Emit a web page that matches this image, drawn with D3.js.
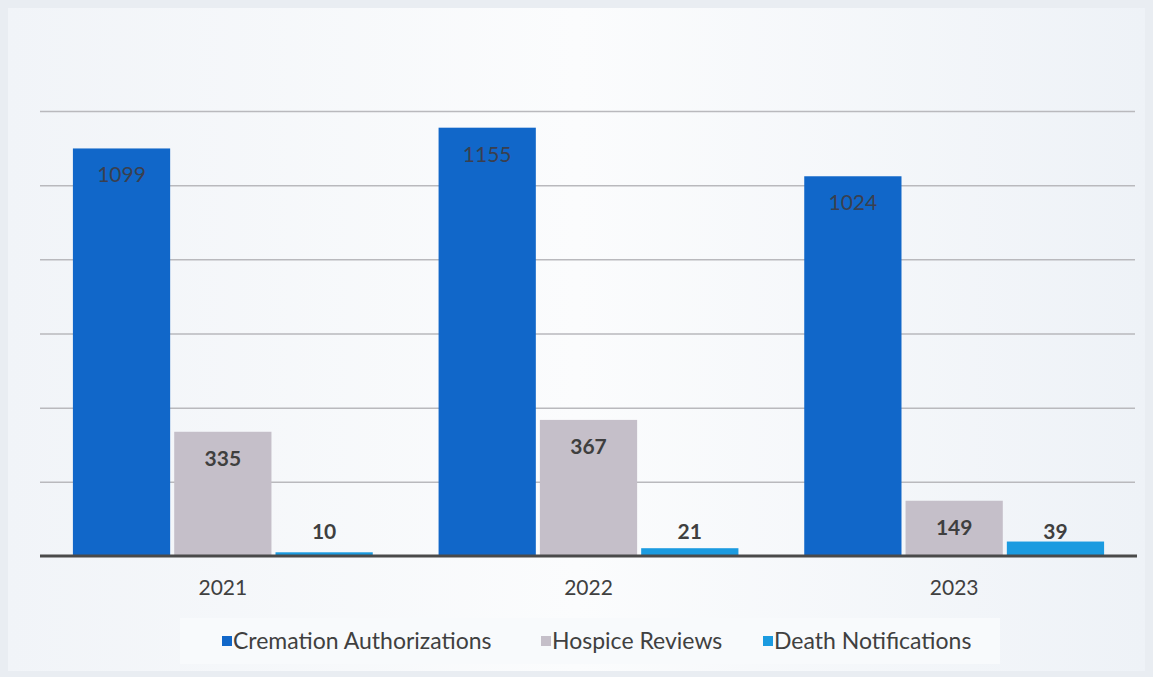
<!DOCTYPE html>
<html>
<head>
<meta charset="utf-8">
<script src="https://cdnjs.cloudflare.com/ajax/libs/d3/7.8.5/d3.min.js"></script>
<style>
  body { margin: 0; background: #eef2f6; }
  svg { display: block; }
</style>
</head>
<body>
<div id="chart"></div>
<script>
// data
const years = ["2021", "2022", "2023"];
const seriesNames = ["Cremation Authorizations", "Hospice Reviews", "Death Notifications"];
const cremation = [1099, 1155, 1024];
const hospice = [335, 367, 149];
const deaths = [10, 21, 39];
const yTicks = [0, 200, 400, 600, 800, 1000, 1200];

const colors = ["#1167c9", "#c5bfc9", "#1b9be0"];
const font = "Lato, 'Open Sans', sans-serif";

const W = 1153, H = 677;
const svg = d3.select("#chart").append("svg")
    .attr("width", W)
    .attr("height", H);

// background panel
const grad = svg.append("defs").append("linearGradient")
    .attr("id", "bg").attr("x1", 0).attr("y1", 0).attr("x2", 1).attr("y2", 0);
grad.append("stop").attr("offset", "0%").attr("stop-color", "#f1f4f8");
grad.append("stop").attr("offset", "50%").attr("stop-color", "#fbfcfd");
grad.append("stop").attr("offset", "100%").attr("stop-color", "#eef2f7");

svg.append("rect").attr("width", W).attr("height", H).attr("fill", "#e9edf2");
svg.append("rect")
    .attr("x", 8).attr("y", 8)
    .attr("width", W - 16).attr("height", H - 14)
    .attr("fill", "url(#bg)");

//比例尺
const x0 = d3.scaleBand()
    .domain(years)
    .range([40, 1137])
    .paddingInner(0.18)
    .paddingOuter(0.09);

const x1 = d3.scaleBand()
    .domain(seriesNames)
    .range([0, x0.bandwidth()])
    .paddingInner(0.04);

const y = d3.scaleLinear()
    .domain([0, 1200])
    .range([556, 111]);

// grid
const grid = svg.append("g")
    .attr("transform", "translate(40,0)")
    .call(d3.axisLeft(y).tickValues(yTicks).tickSize(-1095).tickFormat(""));
grid.select(".domain").remove();
grid.selectAll(".tick line")
    .attr("stroke", "#b9b9bd")
    .attr("stroke-width", 1.5)
    .filter(d => d === 0).remove();

// bars
const allSeries = [cremation, hospice, deaths];
const groups = svg.append("g").selectAll("g")
    .data(years)
    .join("g")
    .attr("transform", d => "translate(" + x0(d) + ",0)");

groups.selectAll("rect")
    .data((d, i) => seriesNames.map((s, k) => ({series: s, k: k, value: allSeries[k][i]})))
    .join("rect")
    .attr("x", d => x1(d.series))
    .attr("width", x1.bandwidth())
    .attr("y", d => y(d.value))
    .attr("height", d => y(0) - y(d.value))
    .attr("fill", d => colors[d.k]);

// value labels (inside end, pushed up for short bars)
groups.selectAll("text")
    .data((d, i) => seriesNames.map((s, k) => ({series: s, k: k, value: allSeries[k][i]})))
    .join("text")
    .attr("x", d => x1(d.series) + x1.bandwidth() / 2)
    .attr("y", d => Math.min(y(d.value) + 34, y(0) - 17))
    .attr("text-anchor", "middle")
    .attr("font-family", font)
    .attr("font-size", 21)
    .attr("font-weight", d => d.k === 0 ? "normal" : "bold")
    .attr("fill", d => d.k === 0 ? "#3a3f4f" : "#3f3f3f")
    .text(d => d.value);

// baseline + x axis
const xAxis = svg.append("g")
    .attr("transform", "translate(0," + y(0) + ")")
    .call(d3.axisBottom(x0).tickSize(0).tickPadding(24));
xAxis.select(".domain")
    .attr("stroke", "#4a4a4a")
    .attr("stroke-width", 3)
    .attr("d", "M40,0H1137");
xAxis.selectAll(".tick text")
    .attr("font-family", font)
    .attr("font-size", 21)
    .attr("fill", "#404040");

// legend
const legend = svg.append("g");
legend.append("rect")
    .attr("x", 180).attr("y", 618)
    .attr("width", 820).attr("height", 46)
    .attr("fill", "#f8fafc");
const legendX = [222, 541, 763];
const items = legend.selectAll(".item")
    .data(seriesNames)
    .join("g")
    .attr("class", "item")
    .attr("transform", (d, i) => "translate(" + legendX[i] + ",641)");
items.append("rect")
    .attr("x", 0).attr("y", -5)
    .attr("width", 10).attr("height", 10)
    .attr("fill", (d, i) => colors[i]);
items.append("text")
    .attr("x", 11).attr("y", 8)
    .attr("font-family", font)
    .attr("font-size", 23)
    .attr("fill", "#404040")
    .text(d => d);
</script>
</body>
</html>
